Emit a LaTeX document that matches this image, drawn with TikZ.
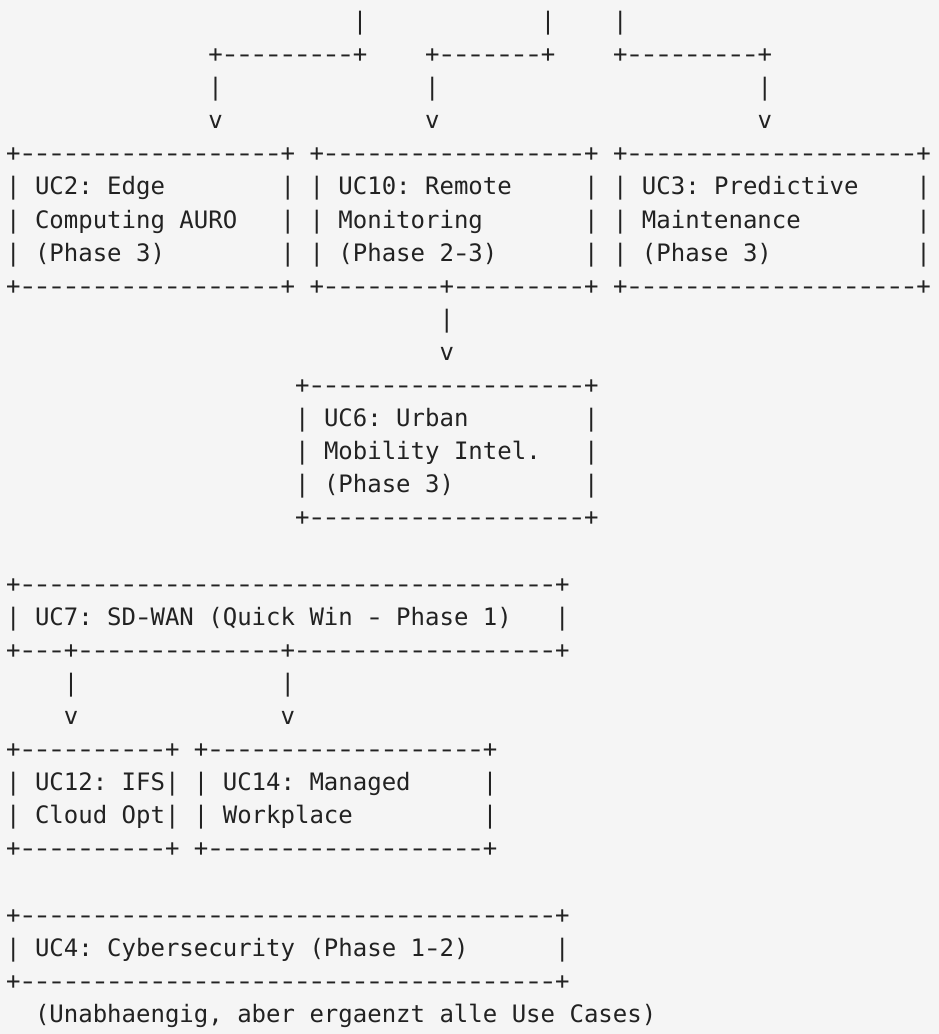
\documentclass[tikz,border=0pt]{standalone}
\usepackage{fontspec}
\usepackage{graphicx}
\usepackage{xstring}
\setmonofont{DejaVu Sans Mono}
\definecolor{bg}{HTML}{F5F5F5}
\definecolor{ink}{HTML}{222222}
\tikzset{
  txt/.style={anchor=base west, inner sep=0pt, outer sep=0pt, text=ink,
              font=\fontsize{24}{28}\selectfont\ttfamily}
}
% a hyphen drawn as wide as in the reference
\newcommand\hy{\makebox[0.6021em][c]{\scalebox{1.35}[1]{-}}}
\newcommand\wide[1]{\noexpandarg\StrSubstitute{#1}{-}{\hy}}
% \seg{name}{row}{column}{text}
\newcommand\seg[4]{\node[txt] (#1) at ({6.1pt+#3*14.45pt},{1004.5pt-(#2-1)*33.1pt}) {\wide{#4}};}
\begin{document}
\begin{tikzpicture}
\fill[bg] (0,0) rectangle (939pt,1034pt);
\useasboundingbox (0,0) rectangle (939pt,1034pt);
% top feeders
\seg{a1}{1}{24}{|}\seg{a2}{1}{37}{|}\seg{a3}{1}{42}{|}
\seg{b1}{2}{14}{+---------+}\seg{b2}{2}{29}{+-------+}\seg{b3}{2}{42}{+---------+}
\seg{c1}{3}{14}{|}\seg{c2}{3}{29}{|}\seg{c3}{3}{52}{|}
\seg{d1}{4}{14}{v}\seg{d2}{4}{29}{v}\seg{d3}{4}{52}{v}
% UC2 / UC10 / UC3
\seg{e1}{5}{0}{+------------------+}\seg{e2}{5}{21}{+------------------+}\seg{e3}{5}{42}{+--------------------+}
\seg{f1}{6}{0}{|}\seg{f2}{6}{2}{UC2: Edge}\seg{f3}{6}{19}{|}
\seg{f4}{6}{21}{|}\seg{f5}{6}{23}{UC10: Remote}\seg{f6}{6}{40}{|}
\seg{f7}{6}{42}{|}\seg{f8}{6}{44}{UC3: Predictive}\seg{f9}{6}{63}{|}
\seg{g1}{7}{0}{|}\seg{g2}{7}{2}{Computing AURO}\seg{g3}{7}{19}{|}
\seg{g4}{7}{21}{|}\seg{g5}{7}{23}{Monitoring}\seg{g6}{7}{40}{|}
\seg{g7}{7}{42}{|}\seg{g8}{7}{44}{Maintenance}\seg{g9}{7}{63}{|}
\seg{h1}{8}{0}{|}\seg{h2}{8}{2}{(Phase 3)}\seg{h3}{8}{19}{|}
\seg{h4}{8}{21}{|}\seg{h5}{8}{23}{(Phase 2-3)}\seg{h6}{8}{40}{|}
\seg{h7}{8}{42}{|}\seg{h8}{8}{44}{(Phase 3)}\seg{h9}{8}{63}{|}
\seg{i1}{9}{0}{+------------------+}\seg{i2}{9}{21}{+--------+---------+}\seg{i3}{9}{42}{+--------------------+}
\seg{j1}{10}{30}{|}
\seg{k1}{11}{30}{v}
% UC6
\seg{l1}{12}{20}{+-------------------+}
\seg{m1}{13}{20}{|}\seg{m2}{13}{22}{UC6: Urban}\seg{m3}{13}{40}{|}
\seg{n1}{14}{20}{|}\seg{n2}{14}{22}{Mobility Intel.}\seg{n3}{14}{40}{|}
\seg{o1}{15}{20}{|}\seg{o2}{15}{22}{(Phase 3)}\seg{o3}{15}{40}{|}
\seg{p1}{16}{20}{+-------------------+}
% UC7
\seg{q1}{18}{0}{+-------------------------------------+}
\seg{r1}{19}{0}{|}\seg{r2}{19}{2}{UC7: SD-WAN (Quick Win - Phase 1)}\seg{r3}{19}{38}{|}
\seg{s1}{20}{0}{+---+--------------+------------------+}
\seg{t1}{21}{4}{|}\seg{t2}{21}{19}{|}
\seg{u1}{22}{4}{v}\seg{u2}{22}{19}{v}
% UC12 / UC14
\seg{w1}{23}{0}{+----------+}\seg{w2}{23}{13}{+-------------------+}
\seg{x1}{24}{0}{|}\seg{x2}{24}{2}{UC12: IFS}\seg{x3}{24}{11}{|}
\seg{x4}{24}{13}{|}\seg{x5}{24}{15}{UC14: Managed}\seg{x6}{24}{33}{|}
\seg{y1}{25}{0}{|}\seg{y2}{25}{2}{Cloud Opt}\seg{y3}{25}{11}{|}
\seg{y4}{25}{13}{|}\seg{y5}{25}{15}{Workplace}\seg{y6}{25}{33}{|}
\seg{z1}{26}{0}{+----------+}\seg{z2}{26}{13}{+-------------------+}
% UC4
\seg{aa1}{28}{0}{+-------------------------------------+}
\seg{ab1}{29}{0}{|}\seg{ab2}{29}{2}{UC4: Cybersecurity (Phase 1-2)}\seg{ab3}{29}{38}{|}
\seg{ac1}{30}{0}{+-------------------------------------+}
\seg{ad1}{31}{2}{(Unabhaengig, aber ergaenzt alle Use Cases)}
\end{tikzpicture}
\end{document}
